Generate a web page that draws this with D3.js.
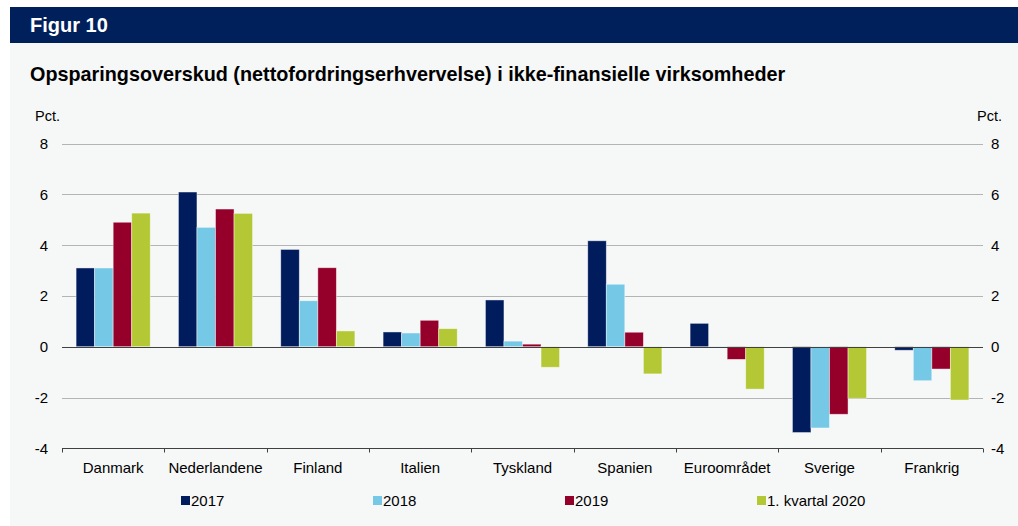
<!DOCTYPE html>
<html>
<head>
<meta charset="utf-8">
<script src="https://cdn.jsdelivr.net/npm/d3@7"></script>
<style>
  body { margin: 0; background: #ffffff; }
  svg { display: block; font-family: "Liberation Sans", Arial, sans-serif; }
</style>
</head>
<body>
<script>
// chart data
var categories = ["Danmark", "Nederlandene", "Finland", "Italien", "Tyskland", "Spanien", "Euroområdet", "Sverige", "Frankrig"];
var seriesNames = ["2017", "2018", "2019", "1. kvartal 2020"];
var v2017 = [3.1, 6.09, 3.83, 0.58, 1.84, 4.17, 0.92, -3.38, -0.14];
var v2018 = [3.1, 4.7, 1.81, 0.54, 0.22, 2.46, -0.02, -3.2, -1.34];
var v2019 = [4.9, 5.42, 3.11, 1.04, 0.1, 0.57, -0.5, -2.66, -0.88];
var vQ1 = [5.26, 5.25, 0.62, 0.71, -0.81, -1.07, -1.67, -2.03, -2.1];
var yTicks = [-4, -2, 0, 2, 4, 6, 8];
var colors = ["#001c5c", "#76c9e6", "#95002b", "#b3c834"];

var width = 1018, height = 526;
var svg = d3.select("body").append("svg")
    .attr("width", width)
    .attr("height", height);

// panel background + header
svg.append("rect").attr("x", 10).attr("y", 43).attr("width", width - 10).attr("height", height - 43).attr("fill", "#f6f7f7");
svg.append("rect").attr("x", 10).attr("y", 7).attr("width", width - 10).attr("height", 36).attr("fill", "#00205b");
svg.append("text").attr("x", 30).attr("y", 32).attr("fill", "#fff")
    .attr("font-size", 20).attr("font-weight", "bold").text("Figur 10");
svg.append("text").attr("x", 30).attr("y", 81).attr("fill", "#000")
    .attr("font-size", 19.8).attr("font-weight", "bold")
    .text("Opsparingsoverskud (nettofordringserhvervelse) i ikke-finansielle virksomheder");

// plot area (note: avoid global "top" which clashes with window.top)
var plotLeft = 62, plotRight = 983, plotTop = 143.5, plotBottom = 448.3;

var x = d3.scaleBand().domain(categories).range([plotLeft, plotRight]).paddingInner(0).paddingOuter(0);
var x1 = d3.scaleBand().domain(seriesNames).range([0, x.bandwidth()]).paddingOuter(0.76);
var y = d3.scaleLinear().domain([-4, 8]).range([plotBottom, plotTop]);

// gridlines
svg.append("g").selectAll("line")
    .data(yTicks.filter(function(d){ return d != 0 && d != -4; }))
    .enter().append("line")
    .attr("x1", plotLeft).attr("x2", plotRight)
    .attr("y1", function(d){ return Math.round(y(d)) + 0.5; })
    .attr("y2", function(d){ return Math.round(y(d)) + 0.5; })
    .attr("stroke", "#b4b4b4").attr("stroke-width", 1);

// bars
var table = categories.map(function(c, i){
    return [v2017[i], v2018[i], v2019[i], vQ1[i]].map(function(v, j){
        return {cat: c, series: seriesNames[j], value: v, color: colors[j]};
    });
});
var flat = [].concat.apply([], table);
svg.append("g").selectAll("rect")
    .data(flat)
    .enter().append("rect")
    .attr("x", function(d){ return x(d.cat) + x1(d.series); })
    .attr("width", x1.bandwidth())
    .attr("y", function(d){ return y(Math.max(0, d.value)); })
    .attr("height", function(d){ return Math.abs(y(d.value) - y(0)); })
    .attr("fill", function(d){ return d.color; })
    .attr("stroke", "rgba(255,255,255,0.55)")
    .attr("stroke-width", 0.8);

// zero line
svg.append("line")
    .attr("x1", plotLeft).attr("x2", plotRight)
    .attr("y1", Math.round(y(0)) + 0.5).attr("y2", Math.round(y(0)) + 0.5)
    .attr("stroke", "#404040").attr("stroke-width", 1);

// bottom axis (at -4) with category ticks
var xAxis = svg.append("g").attr("transform", "translate(0," + (Math.round(y(-4)) + 0.5) + ")");
xAxis.append("line").attr("x1", plotLeft).attr("x2", plotRight).attr("stroke", "#404040");
var bounds = categories.map(function(c){ return x(c); }).concat([plotRight]);
xAxis.selectAll(".tk").data(bounds).enter().append("line")
    .attr("x1", function(d){ return Math.round(d) + 0.5; })
    .attr("x2", function(d){ return Math.round(d) + 0.5; })
    .attr("y1", 0).attr("y2", 4).attr("stroke", "#404040");
xAxis.selectAll("text").data(categories).enter().append("text")
    .attr("x", function(d){ return x(d) + x.bandwidth() / 2; })
    .attr("y", 24)
    .attr("text-anchor", "middle")
    .attr("font-size", 15).attr("fill", "#000")
    .text(function(d){ return d; });

// y tick labels, both sides
svg.append("g").selectAll("text").data(yTicks).enter().append("text")
    .attr("x", 48).attr("y", function(d){ return y(d) + 5.5; })
    .attr("text-anchor", "end").attr("font-size", 15)
    .text(function(d){ return d; });
svg.append("g").selectAll("text").data(yTicks).enter().append("text")
    .attr("x", 991).attr("y", function(d){ return y(d) + 5.5; })
    .attr("text-anchor", "start").attr("font-size", 15)
    .text(function(d){ return d; });
svg.append("text").attr("x", 35).attr("y", 121).attr("font-size", 14.5).text("Pct.");
svg.append("text").attr("x", 977).attr("y", 121).attr("font-size", 14.5).text("Pct.");

// legend
var legend = svg.append("g").selectAll("g")
    .data(seriesNames)
    .enter().append("g")
    .attr("transform", function(d, i){ return "translate(" + (181 + i * 192) + ",496)"; });
legend.append("rect").attr("width", 9).attr("height", 9).attr("y", 0)
    .attr("fill", function(d, i){ return colors[i]; });
legend.append("text").attr("x", 10).attr("y", 10).attr("font-size", 15)
    .text(function(d){ return d; });
</script>
</body>
</html>
